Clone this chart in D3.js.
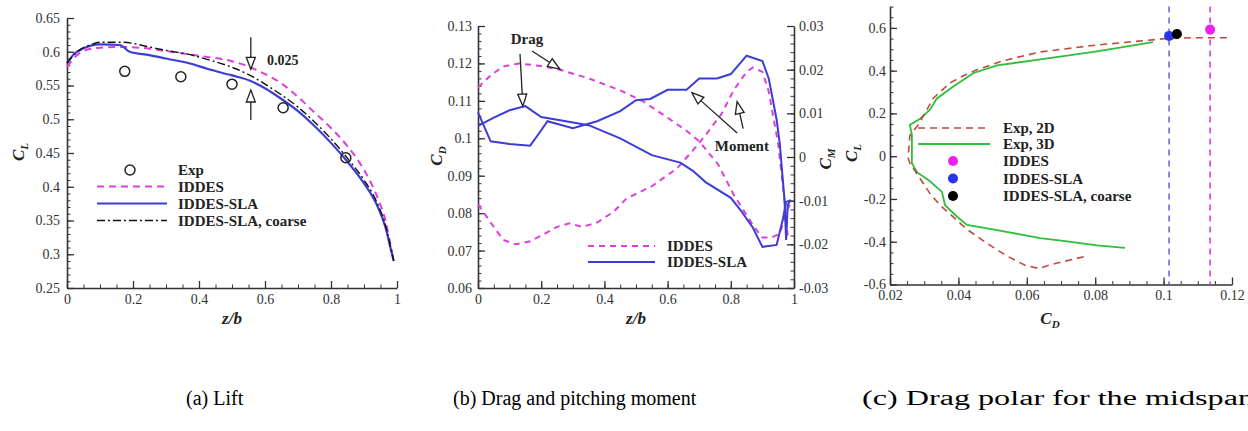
<!DOCTYPE html>
<html><head><meta charset="utf-8">
<script src="https://cdn.jsdelivr.net/npm/d3@7"></script>
<style>
body{margin:0;background:#fff;}
svg{display:block;font-family:"Liberation Serif","Times New Roman",serif;}
</style></head><body>
<svg id="c" width="1248" height="431"></svg>
<script>
// ---------- Panel (a) Lift : [z/b, C_L] ----------
const liftExp = [[0.175,0.571],[0.345,0.563],[0.5,0.552],[0.655,0.517],[0.845,0.443]];
const liftIDDES = [[0,0.578],[0.03,0.595],[0.06,0.603],[0.1,0.606],[0.16,0.607],[0.22,0.606],[0.3,0.601],[0.37,0.596],[0.43,0.592],[0.5,0.586],[0.555,0.577],[0.6,0.567],[0.65,0.553],[0.7,0.533],[0.75,0.51],[0.8,0.487],[0.85,0.46],[0.9,0.425],[0.94,0.385],[0.965,0.35],[0.98,0.315],[0.99,0.29]];
const liftSLA = [[0,0.583],[0.02,0.596],[0.05,0.605],[0.1,0.611],[0.16,0.61],[0.19,0.6],[0.25,0.595],[0.3,0.59],[0.37,0.583],[0.43,0.574],[0.5,0.565],[0.555,0.557],[0.6,0.546],[0.65,0.53],[0.7,0.512],[0.75,0.49],[0.8,0.465],[0.85,0.437],[0.9,0.405],[0.94,0.372],[0.965,0.34],[0.98,0.31],[0.99,0.29]];
const liftCoarse = [[0,0.583],[0.03,0.6],[0.07,0.61],[0.1,0.614],[0.17,0.614],[0.25,0.607],[0.3,0.602],[0.36,0.597],[0.43,0.588],[0.5,0.577],[0.555,0.565],[0.6,0.552],[0.65,0.536],[0.7,0.518],[0.75,0.496],[0.8,0.471],[0.85,0.442],[0.9,0.41],[0.94,0.376],[0.965,0.343],[0.98,0.312],[0.99,0.29]];
const liftYTicks = [0.25,0.3,0.35,0.4,0.45,0.5,0.55,0.6,0.65];
const zbTicks = [0,0.2,0.4,0.6,0.8,1];

// ---------- Panel (b) Drag & moment : [z/b, value] ----------
const cdIDDES = [[0,0.1136],[0.04,0.1168],[0.08,0.1192],[0.13,0.12],[0.2,0.1193],[0.26,0.1183],[0.35,0.116],[0.45,0.1128],[0.52,0.11],[0.6,0.1055],[0.66,0.102],[0.7,0.0992],[0.76,0.093],[0.81,0.0848],[0.87,0.0768],[0.9,0.0735],[0.93,0.0735],[0.955,0.0745],[0.975,0.08],[0.99,0.083]];
const cdSLA = [[0,0.1033],[0.05,0.1055],[0.1,0.1075],[0.15,0.1086],[0.2,0.1057],[0.26,0.1048],[0.35,0.1035],[0.45,0.1],[0.55,0.0955],[0.64,0.0935],[0.68,0.0913],[0.72,0.0883],[0.8,0.0841],[0.83,0.0809],[0.87,0.0761],[0.9,0.071],[0.945,0.0715],[0.965,0.0785],[0.975,0.083],[0.99,0.0834]];
const cmIDDES = [[0,-0.0108],[0.04,-0.015],[0.08,-0.019],[0.12,-0.02],[0.165,-0.0193],[0.21,-0.0176],[0.25,-0.016],[0.29,-0.0152],[0.33,-0.016],[0.377,-0.015],[0.43,-0.0125],[0.47,-0.0095],[0.55,-0.0067],[0.63,-0.0026],[0.68,0.0015],[0.72,0.005],[0.77,0.0098],[0.81,0.0154],[0.85,0.0195],[0.87,0.0205],[0.9,0.0195],[0.92,0.015],[0.95,0.003],[0.97,-0.01],[0.98,-0.018]];
const cmSLA = [[0,0.0102],[0.04,0.0036],[0.1,0.003],[0.165,0.0026],[0.19,0.0051],[0.22,0.0082],[0.3,0.0066],[0.377,0.0082],[0.45,0.0105],[0.5,0.013],[0.545,0.0133],[0.6,0.0154],[0.66,0.0154],[0.7,0.018],[0.756,0.018],[0.8,0.019],[0.85,0.0232],[0.9,0.022],[0.92,0.018],[0.945,0.0086],[0.955,0.003],[0.97,-0.0098],[0.975,-0.019],[0.98,-0.011],[0.99,-0.0098]];
const cdTicks = [0.06,0.07,0.08,0.09,0.1,0.11,0.12,0.13];
const cmTicks = [-0.03,-0.02,-0.01,0,0.01,0.02,0.03];

// ---------- Panel (c) Drag polar : [C_D, C_L] ----------
const polarExp2D = [[0.1185,0.554],[0.1086,0.554],[0.1007,0.55],[0.0805,0.52],[0.0639,0.4875],[0.053,0.446],[0.0454,0.404],[0.0413,0.375],[0.0375,0.342],[0.0326,0.27],[0.0308,0.217],[0.0282,0.146],[0.0258,0.096],[0.0253,-0.008],[0.0258,-0.033],[0.0288,-0.104],[0.0317,-0.175],[0.0346,-0.229],[0.0384,-0.283],[0.0425,-0.342],[0.0484,-0.408],[0.0542,-0.467],[0.0595,-0.51],[0.0635,-0.525],[0.0675,-0.505],[0.0775,-0.467]];
const polarExp3D = [[0.0969,0.533],[0.0805,0.49],[0.063,0.45],[0.0513,0.425],[0.0443,0.388],[0.0384,0.325],[0.0337,0.27],[0.0317,0.217],[0.0288,0.175],[0.0258,0.146],[0.0264,0.1],[0.0264,-0.033],[0.0279,-0.075],[0.0317,-0.117],[0.0337,-0.146],[0.0352,-0.167],[0.0361,-0.229],[0.0396,-0.283],[0.0425,-0.321],[0.0513,-0.346],[0.0639,-0.383],[0.0706,-0.396],[0.0805,-0.417],[0.0887,-0.429]];
const polarPoints = [{name:"IDDES",cd:0.1136,cl:0.592},{name:"IDDES-SLA",cd:0.1016,cl:0.5625},{name:"IDDES-SLA, coarse",cd:0.1039,cl:0.571}];
const polarYTicks = [-0.6,-0.4,-0.2,0,0.2,0.4,0.6];
const polarXTicks = [0.02,0.04,0.06,0.08,0.1,0.12];

const captions = ["(a) Lift","(b) Drag and pitching moment","(c) Drag polar for the midspan"];

// ---------- styles ----------
const C = {mag:"#de3fdc", blue:"#3d3dd6", black:"#111", green:"#2fbf3a", red:"#c04a3c",
           dotMag:"#f020f0", dotBlue:"#2a35e8", vBlue:"#6a6ae6", vMag:"#d648c8", axis:"#333"};
const svg = d3.select("#c");
svg.append("rect").attr("width",1248).attr("height",431).attr("fill","#fff");

const fmt = v => (+v.toFixed(3)).toString();
const range = (a,b,s) => { const r=[]; for(let v=a; v<=b+1e-9; v+=s) r.push(+v.toFixed(4)); return r; };

function styleAxis(g){
  g.selectAll("path.domain").attr("stroke",C.axis).attr("stroke-width",1.6);
  g.selectAll(".tick line").attr("stroke",C.axis).attr("stroke-width",1.3);
  g.selectAll("text").attr("font-family","Liberation Serif").attr("font-size",14).attr("fill","#333");
  g.attr("font-family",null).attr("font-size",null);
}
function addAxis(gen, scale, transform, majors, minors, pad){
  const g = svg.append("g").attr("transform",transform);
  g.call(gen(scale).tickValues(majors).tickFormat(fmt).tickSize(-7).tickSizeOuter(0).tickPadding(pad));
  styleAxis(g);
  const m = svg.append("g").attr("transform",transform);
  m.call(gen(scale).tickValues(minors).tickFormat("").tickSize(-3.5).tickSizeOuter(0));
  m.select("path.domain").remove();
  m.selectAll(".tick line").attr("stroke",C.axis).attr("stroke-width",1);
  return g;
}
function hollowArrow(g, x1,y1,x2,y2){
  const dx=x2-x1, dy=y2-y1, L=Math.hypot(dx,dy), ux=dx/L, uy=dy/L;
  const hl=12, hw=4.5, bx=x2-ux*hl, by=y2-uy*hl;
  g.append("line").attr("x1",x1).attr("y1",y1).attr("x2",bx).attr("y2",by).attr("stroke","#222").attr("stroke-width",1.3);
  g.append("polygon").attr("points",[[x2,y2],[bx-uy*hw,by+ux*hw],[bx+uy*hw,by-ux*hw]].map(p=>p.join(",")).join(" "))
    .attr("fill","#fff").attr("stroke","#222").attr("stroke-width",1.3);
}
function yTitle(x,y,main,sub){
  const t = svg.append("text").attr("transform",`translate(${x},${y}) rotate(-90)`).attr("text-anchor","middle")
    .attr("font-size",17).attr("font-weight","bold").attr("font-style","italic").attr("fill","#222");
  t.append("tspan").text(main);
  t.append("tspan").attr("font-size",11).attr("dy",4).text(sub);
}
function xTitleSub(x,y,main,sub){
  const t = svg.append("text").attr("x",x).attr("y",y).attr("text-anchor","middle")
    .attr("font-size",17).attr("font-weight","bold").attr("font-style","italic").attr("fill","#222");
  t.append("tspan").text(main);
  if(sub) t.append("tspan").attr("font-size",11).attr("dy",4).text(sub);
}
function legendText(g,x,y,s){
  g.append("text").attr("x",x).attr("y",y).attr("dy","0.35em").attr("font-size",15).attr("font-weight","bold").attr("fill","#222").text(s);
}

// ================= Panel (a) =================
const xa = d3.scaleLinear([0,1],[67,397]);
const ya = d3.scaleLinear([0.25,0.65],[288,18]);
addAxis(d3.axisLeft, ya, `translate(${xa(0)},0)`, liftYTicks, range(0.25,0.65,0.01), 7);
addAxis(d3.axisBottom, xa, `translate(0,${ya(0.25)})`, zbTicks, range(0,1,0.05), 6);
const la = d3.line().x(d=>xa(d[0])).y(d=>ya(d[1])).curve(d3.curveMonotoneX);
const pa = svg.append("g");
pa.append("path").datum(liftIDDES).attr("d",la).attr("fill","none").attr("stroke",C.mag).attr("stroke-width",2).attr("stroke-dasharray","7,5");
pa.append("path").datum(liftSLA).attr("d",la).attr("fill","none").attr("stroke",C.blue).attr("stroke-width",2.2);
pa.append("path").datum(liftCoarse).attr("d",la).attr("fill","none").attr("stroke",C.black).attr("stroke-width",1.4).attr("stroke-dasharray","8,3,2,3");
pa.selectAll("circle.exp").data(liftExp).join("circle").attr("cx",d=>xa(d[0])).attr("cy",d=>ya(d[1])).attr("r",5)
  .attr("fill","none").attr("stroke","#222").attr("stroke-width",1.5);
hollowArrow(pa, xa(0.557), ya(0.6213), xa(0.557), ya(0.574));
hollowArrow(pa, xa(0.557), ya(0.499), xa(0.557), ya(0.5433));
pa.append("text").attr("x",xa(0.606)).attr("y",ya(0.587)).attr("dy","0.35em").attr("font-size",14).attr("font-weight","bold").attr("fill","#222").text("0.025");
const lga = svg.append("g");
lga.append("circle").attr("cx",130).attr("cy",170).attr("r",5).attr("fill","none").attr("stroke","#222").attr("stroke-width",1.5);
lga.append("line").attr("x1",97).attr("x2",167).attr("y1",186.5).attr("y2",186.5).attr("stroke",C.mag).attr("stroke-width",2).attr("stroke-dasharray","7,5");
lga.append("line").attr("x1",97).attr("x2",167).attr("y1",203.5).attr("y2",203.5).attr("stroke",C.blue).attr("stroke-width",2.2);
lga.append("line").attr("x1",97).attr("x2",167).attr("y1",220.5).attr("y2",220.5).attr("stroke",C.black).attr("stroke-width",1.4).attr("stroke-dasharray","8,3,2,3");
["Exp","IDDES","IDDES-SLA","IDDES-SLA, coarse"].forEach((s,i)=>legendText(lga,178,170+i*16.9,s));
yTitle(24,152,"C","L");
xTitleSub((xa(0)+xa(1))/2, 324, "z/b");

// ================= Panel (b) =================
const xb = d3.scaleLinear([0,1],[478,794]);
const ybL = d3.scaleLinear([0.06,0.13],[288,26]);
const ybR = d3.scaleLinear([-0.03,0.03],[288,26]);
addAxis(d3.axisLeft, ybL, `translate(${xb(0)},0)`, cdTicks, range(0.06,0.13,0.002), 6);
addAxis(d3.axisRight, ybR, `translate(${xb(1)},0)`, cmTicks, range(-0.03,0.03,0.002), 5);
addAxis(d3.axisBottom, xb, `translate(0,${ybL(0.06)})`, zbTicks, range(0,1,0.05), 6);
const lbL = d3.line().x(d=>xb(d[0])).y(d=>ybL(d[1]));
const lbR = d3.line().x(d=>xb(d[0])).y(d=>ybR(d[1]));
const pb = svg.append("g");
pb.append("path").datum(cdIDDES).attr("d",lbL).attr("fill","none").attr("stroke",C.mag).attr("stroke-width",2).attr("stroke-dasharray","6,5");
pb.append("path").datum(cmIDDES).attr("d",lbR).attr("fill","none").attr("stroke",C.mag).attr("stroke-width",2).attr("stroke-dasharray","6,5");
pb.append("path").datum(cdSLA).attr("d",lbL).attr("fill","none").attr("stroke",C.blue).attr("stroke-width",2);
pb.append("path").datum(cmSLA).attr("d",lbR).attr("fill","none").attr("stroke",C.blue).attr("stroke-width",2);
pb.append("text").attr("x",xb(0.155)).attr("y",ybL(0.1266)).attr("dy","0.35em").attr("text-anchor","middle").attr("font-size",15).attr("font-weight","bold").attr("fill","#222").text("Drag");
hollowArrow(pb, xb(0.133), ybL(0.1225), xb(0.142), ybL(0.1086));
hollowArrow(pb, xb(0.171), ybL(0.1233), xb(0.259), ybL(0.1185));
pb.append("text").attr("x",xb(0.835)).attr("y",ybL(0.098)).attr("dy","0.35em").attr("text-anchor","middle").attr("font-size",15).attr("font-weight","bold").attr("fill","#222").text("Moment");
hollowArrow(pb, xb(0.82), ybL(0.1014), xb(0.677), ybL(0.1122));
hollowArrow(pb, xb(0.839), ybL(0.1026), xb(0.82), ybL(0.1098));
const lgb = svg.append("g");
lgb.append("line").attr("x1",588).attr("x2",655).attr("y1",246).attr("y2",246).attr("stroke",C.mag).attr("stroke-width",2).attr("stroke-dasharray","6,5");
lgb.append("line").attr("x1",588).attr("x2",655).attr("y1",262).attr("y2",262).attr("stroke",C.blue).attr("stroke-width",2);
legendText(lgb,667,246,"IDDES");
legendText(lgb,667,262,"IDDES-SLA");
yTitle(442,156,"C","D");
yTitle(831,159,"C","M");
xTitleSub((xb(0)+xb(1))/2, 324, "z/b");

// ================= Panel (c) =================
const xc = d3.scaleLinear([0.02,0.12],[890,1232]);
const yc = d3.scaleLinear([-0.6,0.7],[284.5,6.5]);
addAxis(d3.axisLeft, yc, `translate(${xc(0.02)},0)`, polarYTicks, range(-0.6,0.7,0.05), 4);
addAxis(d3.axisBottom, xc, `translate(0,${yc(-0.6)})`, polarXTicks, range(0.02,0.12,0.005), 6);
const lc = d3.line().x(d=>xc(d[0])).y(d=>yc(d[1]));
const pc = svg.append("g");
[[polarPoints[1].cd,C.vBlue],[polarPoints[0].cd,C.vMag]].forEach(([cd,col])=>{
  pc.append("line").attr("x1",xc(cd)).attr("x2",xc(cd)).attr("y1",yc(0.7)).attr("y2",yc(-0.6))
    .attr("stroke",col).attr("stroke-width",1.6).attr("stroke-dasharray","6,5");
});
pc.append("path").datum(polarExp3D).attr("d",lc).attr("fill","none").attr("stroke",C.green).attr("stroke-width",1.8);
pc.append("path").datum(polarExp2D).attr("d",lc).attr("fill","none").attr("stroke",C.red).attr("stroke-width",1.6).attr("stroke-dasharray","7,5");
const dotCols = {"IDDES":C.dotMag,"IDDES-SLA":C.dotBlue,"IDDES-SLA, coarse":"#000"};
pc.selectAll("circle.pt").data(polarPoints).join("circle").attr("cx",d=>xc(d.cd)).attr("cy",d=>yc(d.cl)).attr("r",5).attr("fill",d=>dotCols[d.name]);
const lgc = svg.append("g");
lgc.append("line").attr("x1",918).attr("x2",990).attr("y1",128).attr("y2",128).attr("stroke",C.red).attr("stroke-width",1.6).attr("stroke-dasharray","7,5");
lgc.append("line").attr("x1",918).attr("x2",990).attr("y1",144).attr("y2",144).attr("stroke",C.green).attr("stroke-width",1.8);
legendText(lgc,1003,128,"Exp, 2D");
legendText(lgc,1003,144,"Exp, 3D");
polarPoints.forEach((p,i)=>{
  lgc.append("circle").attr("cx",953).attr("cy",161+i*17.5).attr("r",5).attr("fill",dotCols[p.name]);
  legendText(lgc,1003,161+i*17.5,p.name);
});
yTitle(857,153,"C","L");
xTitleSub(1050, 324, "C","D");

// ================= captions =================
const capX = [186,453,862];
captions.forEach((s,i)=>{
  const t = svg.append("text").attr("x",capX[i]).attr("y",405).attr("font-size",20).attr("fill","#000").text(s);
  if(i===2) t.attr("textLength",392).attr("lengthAdjust","spacingAndGlyphs");
});
</script>
</body></html>
